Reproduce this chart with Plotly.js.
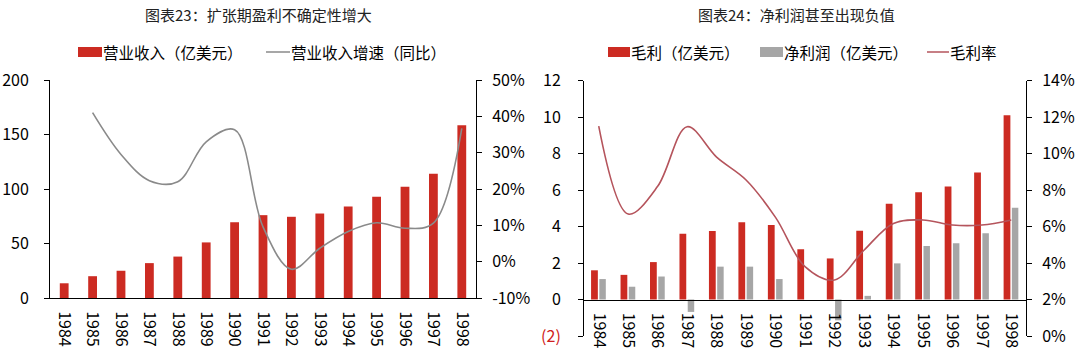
<!DOCTYPE html>
<html>
<head>
<meta charset="utf-8">
<script src="https://cdn.plot.ly/plotly-3.0.1.min.js"></script>
<style>
html,body{margin:0;padding:0;background:#fff;}
#chart{width:1080px;height:352px;}
</style>
</head>
<body>
<div id="chart"></div>
<script>
// ---------- data ----------
const years = ['1984','1985','1986','1987','1988','1989','1990','1991','1992','1993','1994','1995','1996','1997','1998'];

// chart 23
const revenue = [13.5, 20, 25, 32, 38, 51, 69.5, 76, 74.5, 77.5, 84, 93, 102, 114, 158.5];
const revenueGrowth = [null, 0.41, 0.295, 0.223, 0.22, 0.33, 0.363, 0.096, -0.021, 0.037, 0.083, 0.107, 0.092, 0.106, 0.367];

// chart 24
const grossProfit = [1.6, 1.35, 2.05, 3.6, 3.75, 4.23, 4.08, 2.75, 2.25, 3.77, 5.24, 5.88, 6.19, 6.96, 10.09];
const netProfit = [1.12, 0.7, 1.26, -0.68, 1.8, 1.8, 1.12, 0, -1.14, 0.2, 1.98, 2.93, 3.08, 3.63, 5.03];
const grossMargin = [0.115, 0.0668, 0.082, 0.1147, 0.098, 0.0855, 0.065, 0.038, 0.0307, 0.047, 0.0617, 0.0636, 0.0608, 0.0608, 0.0636];

// tick labels
const leftTickVals = [0, 50, 100, 150, 200];
const leftTickText = ['0', '50', '100', '150', '200'];
const growthTickVals = [-0.1, 0, 0.1, 0.2, 0.3, 0.4, 0.5];
const growthTickText = ['-10%', '0%', '10%', '20%', '30%', '40%', '50%'];
const profitTickVals = [-2, 0, 2, 4, 6, 8, 10, 12];
const profitTickText = ['<span style="fill:#d02020">(2)</span>', '0', '2', '4', '6', '8', '10', '12'];
const marginTickVals = [0, 0.02, 0.04, 0.06, 0.08, 0.1, 0.12, 0.14];
const marginTickText = ['0%', '2%', '4%', '6%', '8%', '10%', '12%', '14%'];

const titles = ['图表23：扩张期盈利不确定性增大', '图表24：净利润甚至出现负值'];
const legendNames = ['营业收入（亿美元）', '营业收入增速（同比）', '毛利（亿美元）', '净利润（亿美元）', '毛利率'];

// ---------- style ----------
const RED = '#cc2b22';
const GRAY = '#a6a6a6';
const LINEGRAY = '#8a8a8a';
const MAROON = '#b5545c';
const FONT = '"Noto Sans CJK SC", "Noto Sans", sans-serif';
const W = 1080, H = 352;
const px = x => x / W;
const py = y => 1 - y / H;

const dom1x = [px(50), px(476)];
const dom1y = [py(298), py(80)];
const dom2x = [px(584), px(1026)];
const dom2y = [py(336), py(80.5)];
const zeroPos2 = dom2y[0] + (dom2y[1] - dom2y[0]) * (2 / 14);

const traces = [
  {type: 'bar', x: years, y: revenue, xaxis: 'x', yaxis: 'y', marker: {color: RED}, width: 0.31, name: legendNames[0], hoverinfo: 'x+y'},
  {type: 'scatter', mode: 'lines', x: years, y: revenueGrowth, xaxis: 'x', yaxis: 'y2', line: {color: LINEGRAY, width: 1.6, shape: 'spline', smoothing: 1}, name: legendNames[1], connectgaps: false},
  {type: 'bar', x: years, y: grossProfit, xaxis: 'x3', yaxis: 'y3', marker: {color: RED}, width: 0.23, offset: -0.26, name: legendNames[2]},
  {type: 'bar', x: years, y: netProfit, xaxis: 'x3', yaxis: 'y3', marker: {color: GRAY}, width: 0.22, offset: 0.02, name: legendNames[3]},
  {type: 'scatter', mode: 'lines', x: years, y: grossMargin, xaxis: 'x3', yaxis: 'y4', line: {color: MAROON, width: 1.6, shape: 'spline', smoothing: 1}, name: legendNames[4]}
];

const axisLine = {showline: true, linecolor: '#000', linewidth: 1, showgrid: false, zeroline: false};
const xTick = {tickangle: 90, tickfont: {size: 16, color: '#000', family: FONT}, ticks: '', ticklabelstandoff: 9, type: 'category', range: [-0.5, 14.5], fixedrange: true};
const yTickFont = {size: 16, color: '#000', family: FONT};

const layout = {
  width: W, height: H,
  margin: {l: 0, r: 0, t: 0, b: 0},
  paper_bgcolor: '#fff', plot_bgcolor: 'rgba(0,0,0,0)',
  showlegend: false,
  font: {family: FONT, color: '#000'},
  xaxis: Object.assign({}, axisLine, xTick, {domain: dom1x, anchor: 'y'}),
  yaxis: Object.assign({}, axisLine, {domain: dom1y, anchor: 'x', range: [0, 200], tickvals: leftTickVals, ticktext: leftTickText, ticks: 'outside', ticklen: 5, tickcolor: '#000', tickfont: yTickFont, ticklabelstandoff: 12}),
  yaxis2: Object.assign({}, axisLine, {domain: dom1y, anchor: 'x', overlaying: 'y', side: 'right', range: [-0.1, 0.5], tickvals: growthTickVals, ticktext: growthTickText, ticks: 'outside', ticklen: 5, tickcolor: '#000', tickfont: yTickFont, ticklabelstandoff: 7}),
  xaxis3: Object.assign({}, axisLine, xTick, {domain: dom2x, anchor: 'free', position: zeroPos2}),
  yaxis3: Object.assign({}, axisLine, {domain: dom2y, anchor: 'x3', range: [-2, 12], tickvals: profitTickVals, ticktext: profitTickText, ticks: 'outside', ticklen: 5, tickcolor: '#000', tickfont: yTickFont, ticklabelstandoff: 14}),
  yaxis4: Object.assign({}, axisLine, {domain: dom2y, anchor: 'x3', overlaying: 'y3', side: 'right', range: [0, 0.14], tickvals: marginTickVals, ticktext: marginTickText, ticks: 'outside', ticklen: 5, tickcolor: '#000', tickfont: yTickFont, ticklabelstandoff: 7}),
  annotations: [],
  shapes: []
};

// titles
layout.annotations.push({xref: 'paper', yref: 'paper', x: px(258), y: py(15), text: titles[0], showarrow: false, xanchor: 'center', yanchor: 'middle', font: {size: 15, color: '#222', family: FONT}});
layout.annotations.push({xref: 'paper', yref: 'paper', x: px(796), y: py(15), text: titles[1], showarrow: false, xanchor: 'center', yanchor: 'middle', font: {size: 15, color: '#222', family: FONT}});

// manual legends
const legendY = 52;
function legendRect(x0, x1, color) {
  layout.shapes.push({type: 'rect', xref: 'paper', yref: 'paper', x0: px(x0), x1: px(x1), y0: py(legendY + 5), y1: py(legendY - 5), fillcolor: color, line: {width: 0}});
}
function legendLine(x0, x1, color) {
  layout.shapes.push({type: 'line', xref: 'paper', yref: 'paper', x0: px(x0), x1: px(x1), y0: py(legendY), y1: py(legendY), line: {color: color, width: 1.5}});
}
function legendText(x, text) {
  layout.annotations.push({xref: 'paper', yref: 'paper', x: px(x), y: py(legendY), text: text, showarrow: false, xanchor: 'left', yanchor: 'middle', font: {size: 15.5, color: '#000', family: FONT}});
}
legendRect(78, 102, RED); legendText(101, legendNames[0]);
legendLine(266, 290, LINEGRAY); legendText(289, legendNames[1]);
legendRect(608, 630, RED); legendText(629, legendNames[2]);
legendRect(760, 783, GRAY); legendText(782, legendNames[3]);
legendLine(927, 949, MAROON); legendText(948, legendNames[4]);

Plotly.newPlot('chart', traces, layout, {staticPlot: true, displayModeBar: false});
</script>
</body>
</html>
